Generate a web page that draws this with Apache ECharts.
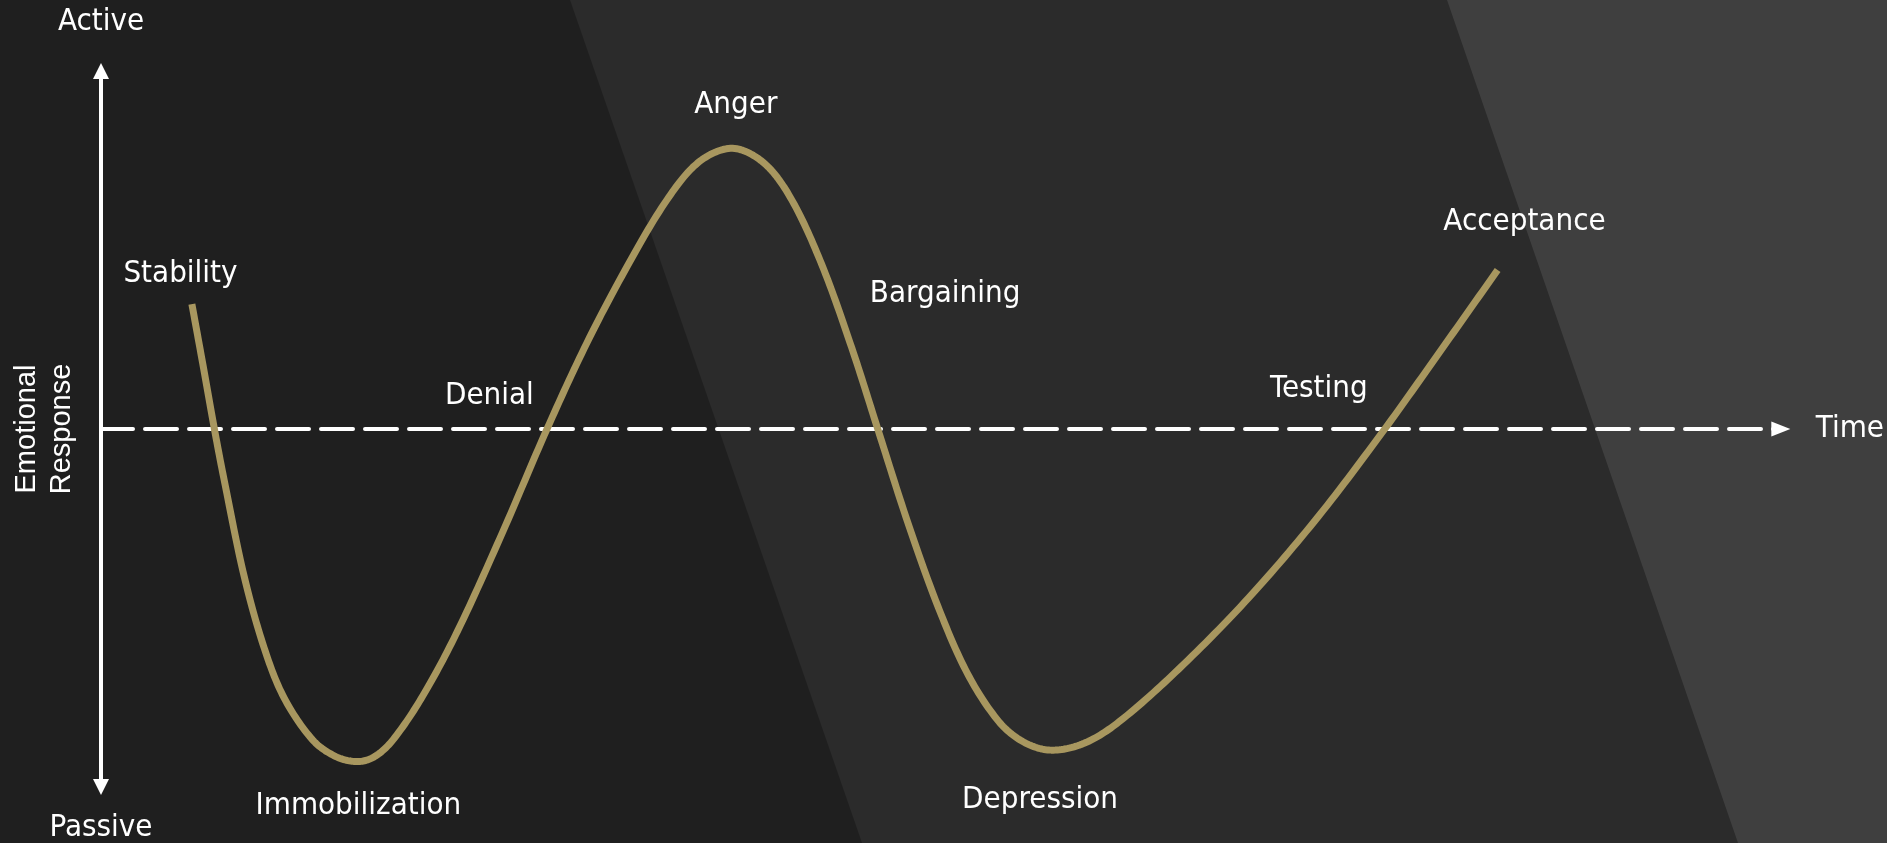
<!DOCTYPE html>
<html>
<head>
<meta charset="utf-8">
<script src="https://cdn.jsdelivr.net/npm/echarts@6/dist/echarts.min.js"></script>
<style>
html,body{margin:0;padding:0;background:#1f1f1f;}
#chart{width:1887px;height:843px;}
</style>
</head>
<body>
<div id="chart"></div>
<script>
// Time (0-100) and emotional response (-100 passive .. 100 active)
const curveTime = [5.41, 6.07, 6.75, 7.33, 8.52, 9.71, 10.90, 12.61, 13.98, 15.28, 16.29, 17.37, 19.15, 21.23,
  23.91, 26.55, 28.93, 31.31, 33.69, 35.62, 37.60, 39.49, 41.12, 42.91, 44.69, 46.24, 48.02, 49.81,
  51.59, 53.46, 54.95, 56.56, 58.52, 60.60, 64.17, 68.33, 72.49, 76.42, 79.63, 83.14];
const curveResponse = [34.9, 17.9, 0, -14.2, -41.1, -61.1, -75.1, -86.9, -91.5, -92.9, -91.5, -86.9, -74.6, -56.4,
  -28.8, 0, 24.1, 45.3, 64.0, 74.7, 78.4, 74.2, 64.0, 45.9, 22.7, 0, -26.0, -49.4,
  -68.4, -81.8, -87.5, -89.7, -87.8, -81.8, -67.0, -47.1, -24.3, 0, 21.1, 44.4];

const stageNames = ['Stability', 'Denial', 'Anger', 'Bargaining', 'Testing', 'Acceptance', 'Immobilization', 'Depression'];
const stageTime = [4.73, 23.12, 37.79, 50.25, 72.50, 84.74, 15.32, 55.90];
const stageResponse = [43.4, 9.1, 90.5, 37.7, 11.1, 57.9, -105.2, -103.5];

const axisTop = 'Active';
const axisBottom = 'Passive';
const axisRight = 'Time';
const axisTitle = 'Emotional\nResponse';

const FONT = "'DejaVu Sans Condensed', 'Open Sans', sans-serif";
const CURVE_COLOR = '#a8975f';

const chart = echarts.init(document.getElementById('chart'), null, {renderer: 'canvas'});

const curveData = curveTime.map((t, i) => [t, curveResponse[i]]);
const stageData = stageNames.map((n, i) => ({name: n, value: [stageTime[i], stageResponse[i]]}));

function dist(a, b) { return Math.hypot(b[0] - a[0], b[1] - a[1]) || 1e-6; }

// Draws one smooth stroke through all curve points (chord-length weighted tangents),
// positioned by the cartesian axes.
function renderCurve(params, api) {
  if (params.dataIndex !== 0) return null;
  const pts = curveData.map(d => api.coord(d));
  const n = pts.length;
  const tangent = pts.map((p, i) => {
    const a = pts[Math.max(i - 1, 0)], b = pts[Math.min(i + 1, n - 1)];
    const l = dist(a, p) * (i > 0 ? 1 : 0) + dist(p, b) * (i < n - 1 ? 1 : 0);
    return [(b[0] - a[0]) / l, (b[1] - a[1]) / l];
  });
  const out = [];
  const STEPS = 16;
  for (let i = 0; i < n - 1; i++) {
    const p1 = pts[i], p2 = pts[i + 1];
    const d = dist(p1, p2) / 3;
    const c1 = [p1[0] + tangent[i][0] * d, p1[1] + tangent[i][1] * d];
    const c2 = [p2[0] - tangent[i + 1][0] * d, p2[1] - tangent[i + 1][1] * d];
    for (let s = (i === 0 ? 0 : 1); s <= STEPS; s++) {
      const t = s / STEPS, u = 1 - t;
      out.push([
        u * u * u * p1[0] + 3 * u * u * t * c1[0] + 3 * u * t * t * c2[0] + t * t * t * p2[0],
        u * u * u * p1[1] + 3 * u * u * t * c1[1] + 3 * u * t * t * c2[1] + t * t * t * p2[1]
      ]);
    }
  }
  return {
    type: 'polyline',
    shape: {points: out},
    style: {stroke: CURVE_COLOR, lineWidth: 7, fill: null, lineCap: 'butt', lineJoin: 'round'},
    silent: true
  };
}

chart.setOption({
  animation: false,
  backgroundColor: '#1f1f1f',
  graphic: [
    {type: 'polygon', z: -10, silent: true, shape: {points: [[570, 0], [1887, 0], [1887, 843], [862, 843]]}, style: {fill: '#2b2b2b'}},
    {type: 'polygon', z: -9, silent: true, shape: {points: [[1447, 0], [1887, 0], [1887, 843], [1738, 843]]}, style: {fill: '#3f3f3f'}},
    {type: 'text', z: 10, silent: true, x: 44, y: 429, rotation: Math.PI / 2,
      style: {text: axisTitle, fill: '#ffffff', font: "29px 'Liberation Sans', Arial, sans-serif", align: 'center', verticalAlign: 'middle', lineHeight: 35}},
    {type: 'text', z: 10, silent: true, x: 101, y: 828,
      style: {text: axisBottom, fill: '#ffffff', font: '31px ' + FONT, align: 'center', verticalAlign: 'middle'}}
  ],
  grid: {left: 101, right: 104.5, top: 71, bottom: 56, containLabel: false},
  xAxis: {
    type: 'value', min: 0, max: 100,
    name: axisRight, nameLocation: 'end', nameGap: 35,
    nameTextStyle: {color: '#ffffff', fontSize: 31, fontFamily: FONT, verticalAlign: 'middle'},
    axisLine: {show: true, onZero: true, symbol: ['none', 'triangle'], symbolSize: [15, 19],
      lineStyle: {color: '#ffffff', width: 4, type: [32, 12]}},
    axisTick: {show: false}, axisLabel: {show: false}, splitLine: {show: false}
  },
  yAxis: {
    type: 'value', min: -100, max: 100,
    name: axisTop, nameLocation: 'end', nameGap: 49,
    nameTextStyle: {color: '#ffffff', fontSize: 31, fontFamily: FONT, align: 'center', verticalAlign: 'middle'},
    axisLine: {show: true, onZero: false, symbol: ['triangle', 'triangle'], symbolSize: [16, 16],
      lineStyle: {color: '#ffffff', width: 4}},
    axisTick: {show: false}, axisLabel: {show: false}, splitLine: {show: false}
  },
  series: [
    {
      type: 'custom', coordinateSystem: 'cartesian2d', data: curveData, encode: {x: 0, y: 1},
      renderItem: renderCurve, silent: true, z: 5, clip: false
    },
    {
      type: 'scatter', data: stageData, symbolSize: 1, silent: true, z: 6, clip: false,
      itemStyle: {color: 'rgba(0,0,0,0)', opacity: 1},
      label: {show: true, position: 'inside', formatter: '{b}', color: '#ffffff', opacity: 1, fontSize: 31, fontFamily: FONT},
      emphasis: {disabled: true}
    }
  ]
});
</script>
</body>
</html>
